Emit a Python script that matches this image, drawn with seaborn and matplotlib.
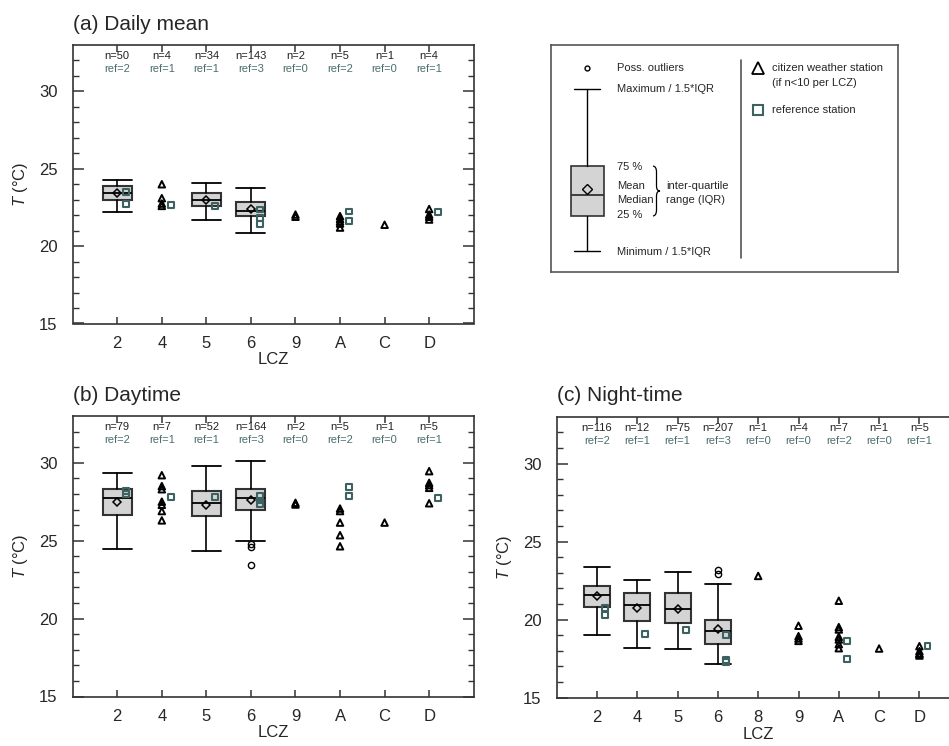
import numpy as np
import pandas as pd
import matplotlib
matplotlib.use("Agg")
import matplotlib.pyplot as plt
import seaborn as sns
from matplotlib.path import Path
from matplotlib.patches import PathPatch

# ---------------- data ----------------
# (a) Daily mean
lcz_a = ['2', '4', '5', '6', '9', 'A', 'C', 'D']
n_a = [50, 4, 34, 143, 2, 5, 1, 4]
nref_a = [2, 1, 1, 3, 0, 2, 0, 1]
box_lcz_a = ['2', '5', '6']
whislo_a = [22.2, 21.66, 20.82]
q1_a = [23.0, 22.62, 21.98]
med_a = [23.44, 23.0, 22.3]
q3_a = [23.87, 23.44, 22.86]
whishi_a = [24.3, 24.1, 23.76]
mean_a = [23.42, 23.0, 22.39]
fliers_a = [[], [], []]
cws_lcz_a = ['4', '4', '4', '4', '9', '9', 'A', 'A', 'A', 'A', 'A', 'C', 'D', 'D', 'D', 'D']
cws_t_a = [24.0, 23.1, 22.75, 22.6, 22.04, 21.9, 21.94, 21.76, 21.6, 21.46, 21.2,
           21.38, 22.4, 22.04, 21.9, 21.72]
ref_lcz_a = ['2', '2', '4', '5', '6', '6', '6', 'A', 'A', 'D']
ref_t_a = [23.5, 22.7, 22.65, 22.62, 22.37, 21.8, 21.44, 22.24, 21.6, 22.2]

# (b) Daytime
lcz_b = ['2', '4', '5', '6', '9', 'A', 'C', 'D']
n_b = [79, 7, 52, 164, 2, 5, 1, 5]
nref_b = [2, 1, 1, 3, 0, 2, 0, 1]
box_lcz_b = ['2', '5', '6']
whislo_b = [24.45, 24.32, 24.96]
q1_b = [26.64, 26.57, 26.96]
med_b = [27.71, 27.39, 27.73]
q3_b = [28.33, 28.2, 28.29]
whishi_b = [29.34, 29.76, 30.1]
mean_b = [27.49, 27.32, 27.58]
fliers_b = [[], [], [24.81, 24.58, 23.46]]
cws_lcz_b = ['4'] * 7 + ['9'] * 2 + ['A'] * 5 + ['C'] + ['D'] * 5
cws_t_b = [29.2, 28.5, 28.3, 27.5, 27.3, 26.9, 26.3,
           27.43, 27.32,
           27.06, 26.9, 26.16, 25.35, 24.64,
           26.16,
           29.46, 28.71, 28.56, 28.39, 27.4]
ref_lcz_b = ['2', '2', '4', '5', '6', '6', '6', 'A', 'A', 'D']
ref_t_b = [28.2, 28.0, 27.81, 27.81, 27.86, 27.58, 27.36, 28.46, 27.86, 27.73]

# (c) Night-time
lcz_c = ['2', '4', '5', '6', '8', '9', 'A', 'C', 'D']
n_c = [116, 12, 75, 207, 1, 4, 7, 1, 5]
nref_c = [2, 1, 1, 3, 0, 0, 2, 0, 1]
box_lcz_c = ['2', '4', '5', '6']
whislo_c = [19.0, 18.21, 18.11, 17.14]
q1_c = [20.83, 19.91, 19.8, 18.47]
med_c = [21.58, 20.91, 20.66, 19.26]
q3_c = [22.18, 21.73, 21.73, 20.0]
whishi_c = [23.38, 22.52, 23.04, 22.31]
mean_c = [21.49, 20.74, 20.70, 19.37]
fliers_c = [[], [], [], [23.16, 22.93]]
cws_lcz_c = ['8'] + ['9'] * 4 + ['A'] * 7 + ['C'] + ['D'] * 5
cws_t_c = [22.8,
           19.61, 18.94, 18.79, 18.64,
           21.21, 19.52, 19.37, 18.9, 18.73, 18.43, 18.17,
           18.15,
           18.3, 17.98, 17.83, 17.7, 17.8]
ref_lcz_c = ['2', '2', '4', '5', '6', '6', '6', 'A', 'A', 'D']
ref_t_c = [20.76, 20.29, 19.07, 19.35, 19.0, 17.44, 17.3, 18.64, 17.46, 18.34]

titles = ['(a) Daily mean', '(b) Daytime', '(c) Night-time']

# legend key sample (in legend-box pixel coordinates)
key_box = dict(med=195.3, q1=216.0, q3=165.7, whislo=250.7, whishi=89.3, mean=189.0, fliers=[68.3])

# ---------------- style ----------------
sns.set_theme(style="ticks")
FONT = ['Liberation Sans', 'DejaVu Sans']
plt.rcParams['font.family'] = FONT
plt.rcParams['mathtext.fontset'] = 'custom'
plt.rcParams['mathtext.it'] = 'Liberation Sans:italic'
plt.rcParams['mathtext.rm'] = 'Liberation Sans'

SPINE = '#333333'
REFC = '#4a6e6e'
SQC = '#3c6262'
BOXFC = '#d4d4d4'

fig = plt.figure(figsize=(9.49, 7.46), dpi=100)
W, H = 949.0, 746.0


def add_axes_px(left, top, width, height):
    return fig.add_axes([left / W, 1 - (top + height) / H, width / W, height / H])


def draw_panel(ax, lcz, n, nref, box_lcz, whislo, q1, med, q3, whishi, mean, fliers,
               cws_lcz, cws_t, ref_lcz, ref_t, title):
    pos = {c: i + 1 for i, c in enumerate(lcz)}
    stats = []
    for c, lo, a, m, b, hi, mu, fl in zip(box_lcz, whislo, q1, med, q3, whishi, mean, fliers):
        stats.append(dict(label=c, whislo=lo, q1=a, med=m, q3=b, whishi=hi, mean=mu, fliers=fl))
    ax.bxp(stats, positions=[pos[c] for c in box_lcz], widths=0.65, capwidths=0.65,
           patch_artist=True, showmeans=True, manage_ticks=False,
           boxprops=dict(facecolor=BOXFC, edgecolor=SPINE, linewidth=1.5),
           medianprops=dict(color='black', linewidth=1.3),
           whiskerprops=dict(color='black', linewidth=1.2),
           capprops=dict(color='black', linewidth=1.3),
           meanprops=dict(marker='D', markerfacecolor='none', markeredgecolor='black',
                          markersize=4.5, markeredgewidth=1.1),
           flierprops=dict(marker='o', markerfacecolor='none', markeredgecolor='black',
                           markersize=4.5, markeredgewidth=1.0))

    cws = pd.DataFrame({'x': [pos[c] for c in cws_lcz], 'T': cws_t})
    ref = pd.DataFrame({'x': [pos[c] + 0.2 for c in ref_lcz], 'T': ref_t})
    sns.scatterplot(data=cws, x='x', y='T', ax=ax, marker='^', s=22,
                    facecolor='none', edgecolor='black', linewidth=1.4, zorder=5, legend=False)
    sns.scatterplot(data=ref, x='x', y='T', ax=ax, marker='s', s=18,
                    facecolor='none', edgecolor=SQC, linewidth=1.5, zorder=5, legend=False)

    for c, k, r in zip(lcz, n, nref):
        ax.text(pos[c], 32.3, f'n={k}', ha='center', va='center', fontsize=8, color='#222222')
        ax.text(pos[c], 31.45, f'ref={r}', ha='center', va='center', fontsize=8, color=REFC)

    ax.set_xlim(0, len(lcz) + 1)
    ax.set_ylim(15, 33)
    ax.set_xticks(list(pos.values()))
    ax.set_xticklabels(lcz)
    ax.set_yticks([15, 20, 25, 30])
    ax.set_yticks(np.arange(15, 33, 1), minor=True)
    ax.tick_params(axis='x', which='major', direction='in', length=5, width=1.1,
                   top=True, bottom=True, labelsize=12, pad=9, color=SPINE)
    ax.tick_params(axis='x', which='minor', bottom=False, top=False)
    ax.tick_params(axis='y', which='major', direction='in', length=8, width=1.1,
                   left=True, right=True, labelsize=12, pad=11, color=SPINE)
    ax.tick_params(axis='y', which='minor', direction='in', length=4, width=1.0,
                   left=True, right=True, color=SPINE)
    for sp in ax.spines.values():
        sp.set_visible(True)
        sp.set_color(SPINE)
        sp.set_linewidth(1.2)
    ax.set_xlabel('LCZ', fontsize=12, labelpad=1)
    ax.set_ylabel(r'$T$ (°C)', fontsize=12, labelpad=6)
    ax.set_title(title, loc='left', fontsize=15, pad=11)


ax_a = add_axes_px(72.7, 45, 401, 278.5)
ax_b = add_axes_px(72.7, 416, 401, 280.5)
ax_c = add_axes_px(556.7, 416.7, 403, 281)

draw_panel(ax_a, lcz_a, n_a, nref_a, box_lcz_a, whislo_a, q1_a, med_a, q3_a, whishi_a,
           mean_a, fliers_a, cws_lcz_a, cws_t_a, ref_lcz_a, ref_t_a, titles[0])
draw_panel(ax_b, lcz_b, n_b, nref_b, box_lcz_b, whislo_b, q1_b, med_b, q3_b, whishi_b,
           mean_b, fliers_b, cws_lcz_b, cws_t_b, ref_lcz_b, ref_t_b, titles[1])
draw_panel(ax_c, lcz_c, n_c, nref_c, box_lcz_c, whislo_c, q1_c, med_c, q3_c, whishi_c,
           mean_c, fliers_c, cws_lcz_c, cws_t_c, ref_lcz_c, ref_t_c, titles[2])

# ---------------- legend box ----------------
L0, T0, L1, B1 = 550.7, 45.0, 898.0, 272.3
axl = add_axes_px(L0, T0, L1 - L0, B1 - T0)
axl.set_xlim(L0, L1)
axl.set_ylim(B1, T0)
axl.set_xticks([])
axl.set_yticks([])
for sp in axl.spines.values():
    sp.set_visible(True)
    sp.set_color('#555555')
    sp.set_linewidth(1.2)

axl.bxp([dict(key_box)], positions=[587.3], widths=33.3, capwidths=26, patch_artist=True,
        showmeans=True, manage_ticks=False,
        boxprops=dict(facecolor=BOXFC, edgecolor=SPINE, linewidth=1.2),
        medianprops=dict(color='#333333', linewidth=1.3),
        whiskerprops=dict(color='black', linewidth=1.0),
        capprops=dict(color='black', linewidth=1.0),
        meanprops=dict(marker='D', markerfacecolor='none', markeredgecolor='black',
                       markersize=5.5, markeredgewidth=1.0),
        flierprops=dict(marker='o', markerfacecolor='none', markeredgecolor='black',
                        markersize=3.5, markeredgewidth=1.0))

fs = 8
axl.text(616.7, 68.3, 'Poss. outliers', fontsize=fs, va='center')
axl.text(616.7, 89.5, 'Maximum / 1.5*IQR', fontsize=fs, va='center')
axl.text(616.7, 166.7, '75 %', fontsize=fs, va='center')
axl.text(616.7, 185.7, 'Mean', fontsize=fs, va='center')
axl.text(616.7, 200.0, 'Median', fontsize=fs, va='center')
axl.text(616.7, 215.0, '25 %', fontsize=fs, va='center')
axl.text(666.0, 185.7, 'inter-quartile', fontsize=fs, va='center')
axl.text(666.0, 200.0, 'range (IQR)', fontsize=fs, va='center')
axl.text(616.7, 252.0, 'Minimum / 1.5*IQR', fontsize=fs, va='center')
axl.text(772.3, 68.3, 'citizen weather station', fontsize=fs, va='center')
axl.text(772.3, 83.3, '(if n<10 per LCZ)', fontsize=fs, va='center')
axl.text(772.3, 110.0, 'reference station', fontsize=fs, va='center')

axl.plot([741, 741], [60, 258], color='#555555', lw=1.2)
axl.plot([758.3], [68.3], marker='^', ms=8, mfc='none', mec='black', mew=1.3)
axl.plot([758.3], [110.0], marker='s', ms=7.5, mfc='none', mec=SQC, mew=1.5)

# curly brace
verts = [(653, 166), (656.5, 166.5), (656.5, 172),
         (656.5, 186),
         (656.5, 191), (660, 191),
         (656.5, 191), (656.5, 196),
         (656.5, 210),
         (656.5, 215.5), (653, 216)]
codes = [Path.MOVETO, Path.CURVE3, Path.CURVE3,
         Path.LINETO,
         Path.CURVE3, Path.CURVE3,
         Path.CURVE3, Path.CURVE3,
         Path.LINETO,
         Path.CURVE3, Path.CURVE3]
axl.add_patch(PathPatch(Path(verts, codes), fill=False, lw=0.9, edgecolor='black'))

fig.savefig('out.png', dpi=100)
